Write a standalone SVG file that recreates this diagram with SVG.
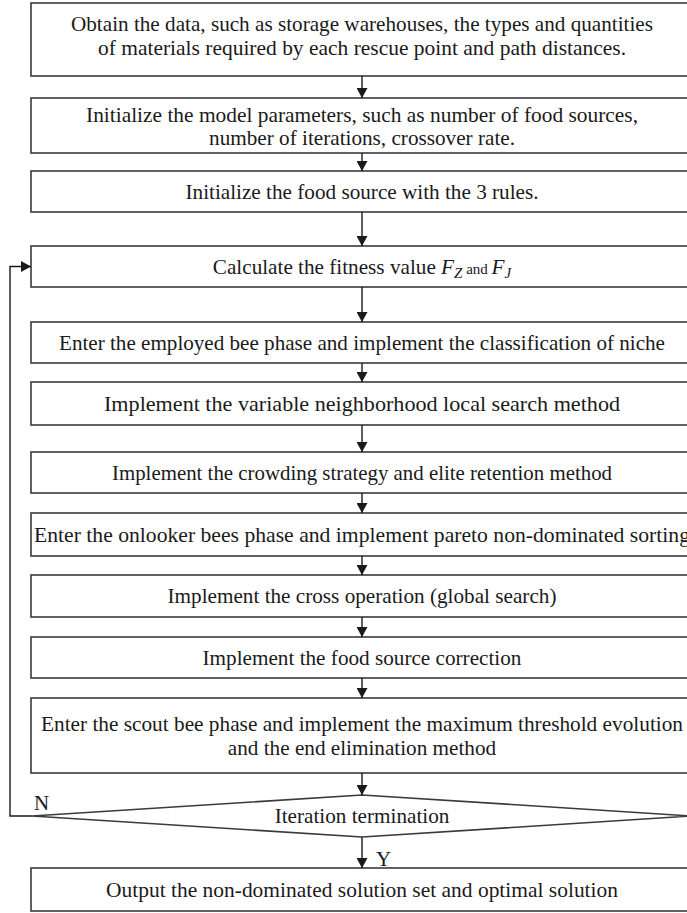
<svg xmlns="http://www.w3.org/2000/svg" width="687" height="913" viewBox="0 0 687 913">
  <style>
    .box { fill: #ffffff; stroke: #3a3a3a; stroke-width: 1.6; }
    .lbl { font-family: "Liberation Serif", "DejaVu Serif", serif; font-size: 21.2px; fill: #1a1a1a; text-anchor: middle; }
    .tag { font-family: "Liberation Serif", "DejaVu Serif", serif; font-size: 21px; fill: #1a1a1a; }
    .wire { fill: none; stroke: #1a1a1a; stroke-width: 1.4; }
  </style>
  <defs>
    <marker id="arrow" viewBox="0 0 10 11" refX="10" refY="5.5" markerWidth="10" markerHeight="11" markerUnits="userSpaceOnUse" orient="auto">
      <path d="M0,0 L10,5.5 L0,11 z" fill="#1a1a1a"/>
    </marker>
  </defs>
  <rect width="687" height="913" fill="#ffffff"/>

  <g id="n1">
    <rect class="box" x="31" y="3" width="662" height="73"/>
    <text class="lbl" x="362" y="31" textLength="582" lengthAdjust="spacingAndGlyphs">Obtain the data, such as storage warehouses, the types and quantities</text>
    <text class="lbl" x="362" y="55" textLength="528" lengthAdjust="spacingAndGlyphs">of materials required by each rescue point and path distances.</text>
  </g>
  <g id="n2">
    <rect class="box" x="31" y="98" width="662" height="55"/>
    <text class="lbl" x="362" y="122" textLength="552" lengthAdjust="spacingAndGlyphs">Initialize the model parameters, such as number of food sources,</text>
    <text class="lbl" x="362" y="145">number of iterations, crossover rate.</text>
  </g>
  <g id="n3">
    <rect class="box" x="31" y="171" width="662" height="41"/>
    <text class="lbl" x="362" y="199">Initialize the food source with the 3 rules.</text>
  </g>
  <g id="n4">
    <rect class="box" x="31" y="246" width="662" height="41"/>
    <text class="lbl" x="362" y="274">Calculate the fitness value <tspan font-style="italic">F</tspan><tspan font-style="italic" font-size="15" dy="4">Z</tspan><tspan font-size="15" dy="-4"> and </tspan><tspan font-style="italic">F</tspan><tspan font-style="italic" font-size="15" dy="4">J</tspan></text>
  </g>
  <g id="n5">
    <rect class="box" x="31" y="322" width="662" height="41"/>
    <text class="lbl" x="362" y="350" textLength="606" lengthAdjust="spacingAndGlyphs">Enter the employed bee phase and implement the classification of niche</text>
  </g>
  <g id="n6">
    <rect class="box" x="31" y="382" width="662" height="43"/>
    <text class="lbl" x="362" y="411" textLength="516" lengthAdjust="spacingAndGlyphs">Implement the variable neighborhood local search method</text>
  </g>
  <g id="n7">
    <rect class="box" x="31" y="452" width="662" height="41"/>
    <text class="lbl" x="362" y="480" textLength="500" lengthAdjust="spacingAndGlyphs">Implement the crowding strategy and elite retention method</text>
  </g>
  <g id="n8">
    <rect class="box" x="31" y="513" width="662" height="43"/>
    <text class="lbl" x="362" y="542" textLength="656" lengthAdjust="spacingAndGlyphs">Enter the onlooker bees phase and implement pareto non-dominated sorting</text>
  </g>
  <g id="n9">
    <rect class="box" x="31" y="575" width="662" height="42"/>
    <text class="lbl" x="362" y="603">Implement the cross operation (global search)</text>
  </g>
  <g id="n10">
    <rect class="box" x="31" y="637" width="662" height="41"/>
    <text class="lbl" x="362" y="665">Implement the food source correction</text>
  </g>
  <g id="n11">
    <rect class="box" x="31" y="698" width="662" height="75"/>
    <text class="lbl" x="362" y="731" textLength="642" lengthAdjust="spacingAndGlyphs">Enter the scout bee phase and implement the maximum threshold evolution</text>
    <text class="lbl" x="362" y="755">and the end elimination method</text>
  </g>
  <g id="n12">
    <polygon class="box" points="32,816 362,795 692,816 362,837"/>
    <text class="lbl" x="362" y="823">Iteration termination</text>
  </g>
  <g id="n13">
    <rect class="box" x="31" y="868" width="662" height="43"/>
    <text class="lbl" x="362" y="897" textLength="512" lengthAdjust="spacingAndGlyphs">Output the non-dominated solution set and optimal solution</text>
  </g>

  <g id="connectors">
    <line class="wire" x1="362" y1="76" x2="362" y2="98" marker-end="url(#arrow)"/>
    <line class="wire" x1="362" y1="153" x2="362" y2="171" marker-end="url(#arrow)"/>
    <line class="wire" x1="362" y1="212" x2="362" y2="246" marker-end="url(#arrow)"/>
    <line class="wire" x1="362" y1="287" x2="362" y2="322" marker-end="url(#arrow)"/>
    <line class="wire" x1="362" y1="363" x2="362" y2="382" marker-end="url(#arrow)"/>
    <line class="wire" x1="362" y1="425" x2="362" y2="452" marker-end="url(#arrow)"/>
    <line class="wire" x1="362" y1="493" x2="362" y2="513" marker-end="url(#arrow)"/>
    <line class="wire" x1="362" y1="556" x2="362" y2="575" marker-end="url(#arrow)"/>
    <line class="wire" x1="362" y1="617" x2="362" y2="637" marker-end="url(#arrow)"/>
    <line class="wire" x1="362" y1="678" x2="362" y2="698" marker-end="url(#arrow)"/>
    <line class="wire" x1="362" y1="773" x2="362" y2="795" marker-end="url(#arrow)"/>
    <line class="wire" x1="362" y1="837" x2="362" y2="868" marker-end="url(#arrow)"/>
    <polyline class="wire" points="32,816 10,816 10,266.5 31,266.5" marker-end="url(#arrow)"/>
    <text class="tag" x="34" y="810">N</text>
    <text class="tag" x="376" y="866">Y</text>
  </g>
</svg>
